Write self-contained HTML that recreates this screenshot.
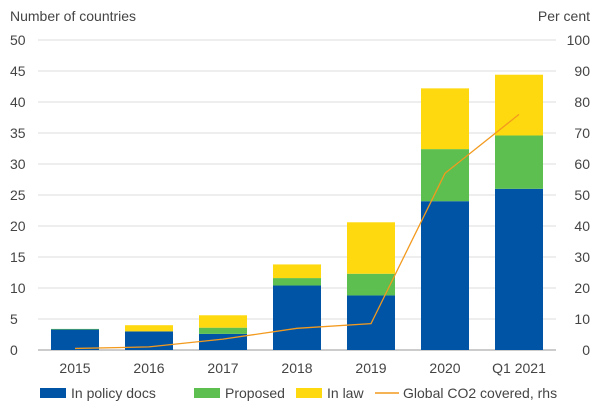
<!DOCTYPE html>
<html><head><meta charset="utf-8"><style>
body{margin:0;background:#fff;font-family:"Liberation Sans",sans-serif;}
svg text{font-family:"Liberation Sans",sans-serif;fill:#444;}
</style></head><body>
<svg id="c" width="600" height="413"></svg>
<script>
const categories=["2015","2016","2017","2018","2019","2020","Q1 2021"];
const policy=[3.3,3.0,2.6,10.4,8.8,24.0,26.0];
const proposed=[0.1,0.0,1.0,1.2,3.5,8.4,8.6];
const inlaw=[0.0,1.0,2.0,2.2,8.3,9.8,9.8];
const co2=[0.5,1.0,3.5,7.0,8.5,57.0,76.0];
const leftTicks=[0,5,10,15,20,25,30,35,40,45,50];
const rightTicks=[0,10,20,30,40,50,60,70,80,90,100];
const NS="http://www.w3.org/2000/svg";
const svg=document.getElementById('c');
const x0=38,x1=556,yB=350,yT=40;
const yL=v=>yB-(v/50)*(yB-yT);
const yR=v=>yB-(v/100)*(yB-yT);
const band=(x1-x0)/categories.length;
const xc=i=>x0+band*(i+0.5);
const bw=48;
function el(t,a,txt){const e=document.createElementNS(NS,t);for(const k in a)e.setAttribute(k,a[k]);if(txt!==undefined)e.textContent=txt;svg.appendChild(e);return e;}
leftTicks.forEach((t,i)=>{
  const g=el('line',{x1:x0,x2:x1,y1:yL(t),y2:yL(t),stroke:i==0?'#999':'#ddd','stroke-width':1});
  
  
  const l=el('text',{x:10,y:yL(t)+5,'font-size':14},t);
  
  
});
rightTicks.forEach(t=>{
  const l=el('text',{x:590,y:yR(t)+5,'font-size':14,'text-anchor':'end'},t);
  
  
});
const tl=el('text',{x:10,y:21,'font-size':14},'Number of countries');

const tr=el('text',{x:590,y:21,'font-size':14,'text-anchor':'end'},'Per cent');

const series=[[policy,'#0054a6','bar-policy'],[proposed,'#5cbf4f','bar-proposed'],[inlaw,'#ffd90f','bar-law']];
categories.forEach((c,i)=>{
  let base=0;
  series.forEach(([arr,col,nm])=>{
    const v=arr[i];
    if(v>0){const r=el('rect',{x:xc(i)-bw/2,y:yL(base+v),width:bw,height:yL(base)-yL(base+v),fill:col});
    }
    base+=v;
  });
  const t=el('text',{x:xc(i),y:373,'font-size':14,'text-anchor':'middle'},c);
  
});
const pl=el('polyline',{points:co2.map((v,i)=>xc(i)+','+yR(v)).join(' '),fill:'none',stroke:'#f39a1e','stroke-width':1.3});

const leg=[['rect','#0054a6','In policy docs',40],['rect','#5cbf4f','Proposed',194],['rect','#ffd90f','In law',296],['line','#f39a1e','Global CO2 covered, rhs',375]];
leg.forEach(([k,col,txt,x])=>{
  const m=k=='rect'?el('rect',{x:x,y:388,width:26,height:10,fill:col}):el('line',{x1:x,x2:x+24,y1:393,y2:393,stroke:col,'stroke-width':1.5});
  
  const t=el('text',{x:x+(k=='rect'?31:28),y:398,'font-size':14},txt);
  
});
</script>
</body></html>
